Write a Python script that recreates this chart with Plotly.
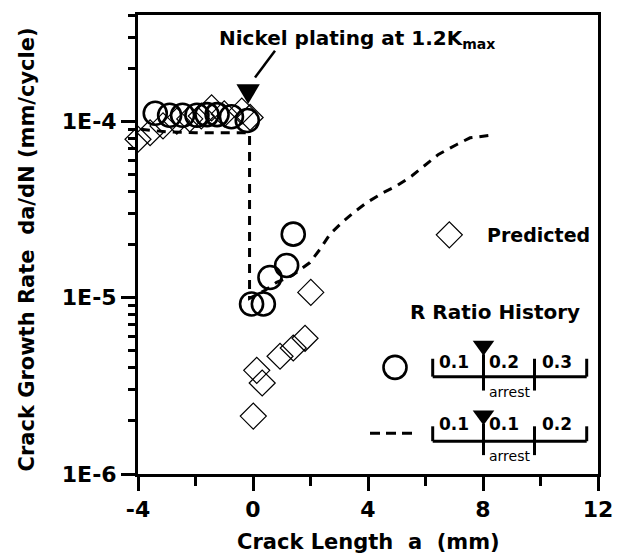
import math
import plotly.graph_objects as go

# ---------------- data ----------------
# measured crack growth rate (open circles)
meas_x = [-3.4, -2.9, -2.45, -1.95, -1.6, -1.25, -0.75, -0.2, -0.05, 0.36, 0.59, 1.17, 1.40]
meas_y = [1.11e-4, 1.08e-4, 1.08e-4, 1.08e-4, 1.09e-4, 1.09e-4, 1.06e-4, 1.01e-4,
          9.2e-6, 9.2e-6, 1.30e-5, 1.52e-5, 2.29e-5]

# predicted points (open diamonds)
pred_x = [-4.0, -3.58, -3.13, -2.65, -2.2, -1.8, -1.44, -1.0, -0.39, -0.1,
          0.01, 0.13, 0.32, 0.94, 1.40, 1.81, 2.01]
pred_y = [7.9e-5, 8.6e-5, 9.4e-5, 1.0e-4, 1.03e-4, 1.07e-4, 1.19e-4, 1.1e-4, 1.14e-4, 1.05e-4,
          2.13e-6, 3.87e-6, 3.28e-6, 4.65e-6, 5.18e-6, 5.88e-6, 1.07e-5]

# predicted curve (dashed line)
curve_x = [-3.9, -3.0, -2.0, -1.0, -0.12, -0.12, 0.42, 0.82, 1.35, 1.98, 2.33, 2.68, 3.09,
           3.49, 3.95, 4.53, 5.0, 5.52, 5.98, 6.45, 7.09, 7.55, 8.3]
curve_y = [9.0e-5, 8.7e-5, 8.6e-5, 8.6e-5, 8.6e-5, 9.9e-6, 1.1e-5, 1.22e-5, 1.33e-5, 1.58e-5,
           1.88e-5, 2.29e-5, 2.66e-5, 3.03e-5, 3.45e-5, 3.94e-5, 4.3e-5, 4.89e-5, 5.63e-5,
           6.48e-5, 7.38e-5, 8.05e-5, 8.34e-5]

arrest_x = -0.17          # nickel plating / arrest position (mm)

x_tickvals = [-4, 0, 4, 8, 12]
x_ticktext = ["-4", "0", "4", "8", "12"]
x_minorvals = [-2, 2, 6, 10]
y_tickvals = [1e-6, 1e-5, 1e-4]
y_ticktext = ["1E-6", "1E-5", "1E-4"]
y_minorvals = [m * 10.0 ** e for e in (-6, -5, -4) for m in range(2, 10) if m * 10.0 ** e <= 4e-4]

legend1_labels = ["0.1", "0.2", "0.3"]
legend2_labels = ["0.1", "0.1", "0.2"]

# ---------------- layout geometry ----------------
W, H = 629, 559
L, R, T, B = 138, 31, 12, 85
XR = [-4, 12]
YR = [-6, math.log10(4e-4)]
FONT = "DejaVu Sans"
BLK = "black"
PW, PH = W - L - R, H - T - B


def px_x(x):
    return L + (x - XR[0]) / (XR[1] - XR[0]) * PW


fig = go.Figure()

fig.add_trace(go.Scatter(x=pred_x, y=pred_y, mode="markers", cliponaxis=False,
                         marker=dict(symbol="diamond-open", size=20, color=BLK,
                                     line=dict(width=1.2, color=BLK)),
                         showlegend=False))
fig.add_trace(go.Scatter(x=curve_x, y=curve_y, mode="lines",
                         line=dict(color=BLK, width=3, dash="9px,7px"),
                         showlegend=False))
fig.add_trace(go.Scatter(x=meas_x, y=meas_y, mode="markers", cliponaxis=False,
                         marker=dict(symbol="circle-open", size=23, color=BLK,
                                     line=dict(width=2.6, color=BLK)),
                         showlegend=False))

# overlay axes in pixel units for annotation / legend decorations
OV = dict(xaxis="x2", yaxis="y2", showlegend=False, hoverinfo="skip", cliponaxis=False)
fig.add_trace(go.Scatter(x=[449.3], y=[233.3], mode="markers",
                         marker=dict(symbol="diamond-open", size=20, color=BLK,
                                     line=dict(width=1.2, color=BLK)), **OV))
fig.add_trace(go.Scatter(x=[395], y=[366.7], mode="markers",
                         marker=dict(symbol="circle-open", size=23, color=BLK,
                                     line=dict(width=2.6, color=BLK)), **OV))
fig.add_trace(go.Scatter(x=[370, 414], y=[433, 433], mode="lines",
                         line=dict(color=BLK, width=3, dash="10px,6px"), **OV))

shapes = []
ax_px = px_x(arrest_x)
# arrest triangle + pointer line
shapes.append(dict(type="path", xref="x2", yref="y2", fillcolor=BLK, line=dict(width=0),
                   path=f"M {ax_px-11.7},81.7 L {ax_px+11.7},81.7 L {ax_px},101.7 Z"))
shapes.append(dict(type="line", xref="x2", yref="y2", x0=255, y0=75, x1=275, y1=48,
                   line=dict(color=BLK, width=2.5)))


def bracket(yline, ytop, ybot, tri_y):
    s = []
    ln = dict(color=BLK, width=3)
    s.append(dict(type="line", xref="x2", yref="y2", x0=432.7, y0=yline, x1=586.7, y1=yline, line=ln))
    s.append(dict(type="line", xref="x2", yref="y2", x0=432.7, y0=ytop, x1=432.7, y1=yline, line=ln))
    s.append(dict(type="line", xref="x2", yref="y2", x0=586.7, y0=ytop, x1=586.7, y1=yline, line=ln))
    s.append(dict(type="line", xref="x2", yref="y2", x0=483.5, y0=tri_y + 6, x1=483.5, y1=ybot, line=ln))
    s.append(dict(type="line", xref="x2", yref="y2", x0=534.5, y0=ytop, x1=534.5, y1=ybot, line=ln))
    s.append(dict(type="path", xref="x2", yref="y2", fillcolor=BLK, line=dict(width=0),
                  path=f"M 472.7,{tri_y-7.5} L 494.3,{tri_y-7.5} L 483.5,{tri_y+7.5} Z"))
    return s


shapes += bracket(376, 358, 390, 347.5)
shapes += bracket(441, 426, 455, 417.5)

ann = []


def txt(x, y, s, size, xanchor="center", bold=True, angle=0):
    ann.append(dict(xref="paper", yref="paper", x=(x - L) / PW, y=(H - B - y) / PH,
                    text=s, showarrow=False,
                    xanchor=xanchor, yanchor="middle", textangle=angle,
                    font=dict(family=FONT, size=size, color=BLK,
                              weight="bold" if bold else "normal")))


txt(217, 36, "Nickel plating at 1.2K<sub>max</sub>", 20, xanchor="left")
txt(485, 233.3, "Predicted", 19, xanchor="left")
txt(408, 310.5, "R Ratio History", 20, xanchor="left")
for cx, lab in zip([454, 504, 557], legend1_labels):
    txt(cx, 361.7, lab, 17)
for cx, lab in zip([454, 504, 557], legend2_labels):
    txt(cx, 423.3, lab, 17)
txt(509, 391, "arrest", 14, bold=False)
txt(509, 456, "arrest", 14, bold=False)
txt(368, 542, "Crack Length\u00a0 a\u00a0 (mm)", 21)
txt(27, 248, "Crack Growth Rate\u00a0 da/dN (mm/cycle)", 21, angle=-90)

axis_common = dict(showline=True, linewidth=3, linecolor=BLK, mirror=True,
                   ticks="outside", ticklen=14, tickwidth=3, tickcolor=BLK,
                   showgrid=False, zeroline=False,
                   tickfont=dict(family=FONT, size=22, color=BLK, weight="bold"))

fig.update_layout(
    width=W, height=H,
    margin=dict(l=L, r=R, t=T, b=B),
    paper_bgcolor="white", plot_bgcolor="white",
    font=dict(family=FONT, color=BLK),
    xaxis=dict(range=XR, tickmode="array", tickvals=x_tickvals, ticktext=x_ticktext,
               minor=dict(tickmode="array", tickvals=x_minorvals, ticks="outside",
                          ticklen=9, tickwidth=3, tickcolor=BLK, showgrid=False),
               **axis_common),
    yaxis=dict(type="log", range=YR, tickmode="array", tickvals=y_tickvals, ticktext=y_ticktext,
               minor=dict(tickmode="array", tickvals=y_minorvals, ticks="outside",
                          ticklen=7, tickwidth=3, tickcolor=BLK, showgrid=False),
               **axis_common),
    xaxis2=dict(overlaying="x", range=[L, W - R], visible=False, anchor="y2"),
    yaxis2=dict(overlaying="y", range=[H - B, T], visible=False, anchor="x2"),
    shapes=shapes,
    annotations=ann,
    showlegend=False,
)

fig.write_html("out.html",
               config={"displayModeBar": False, "staticPlot": True},
               post_script="document.body.style.margin='0';document.body.style.overflow='hidden';")
